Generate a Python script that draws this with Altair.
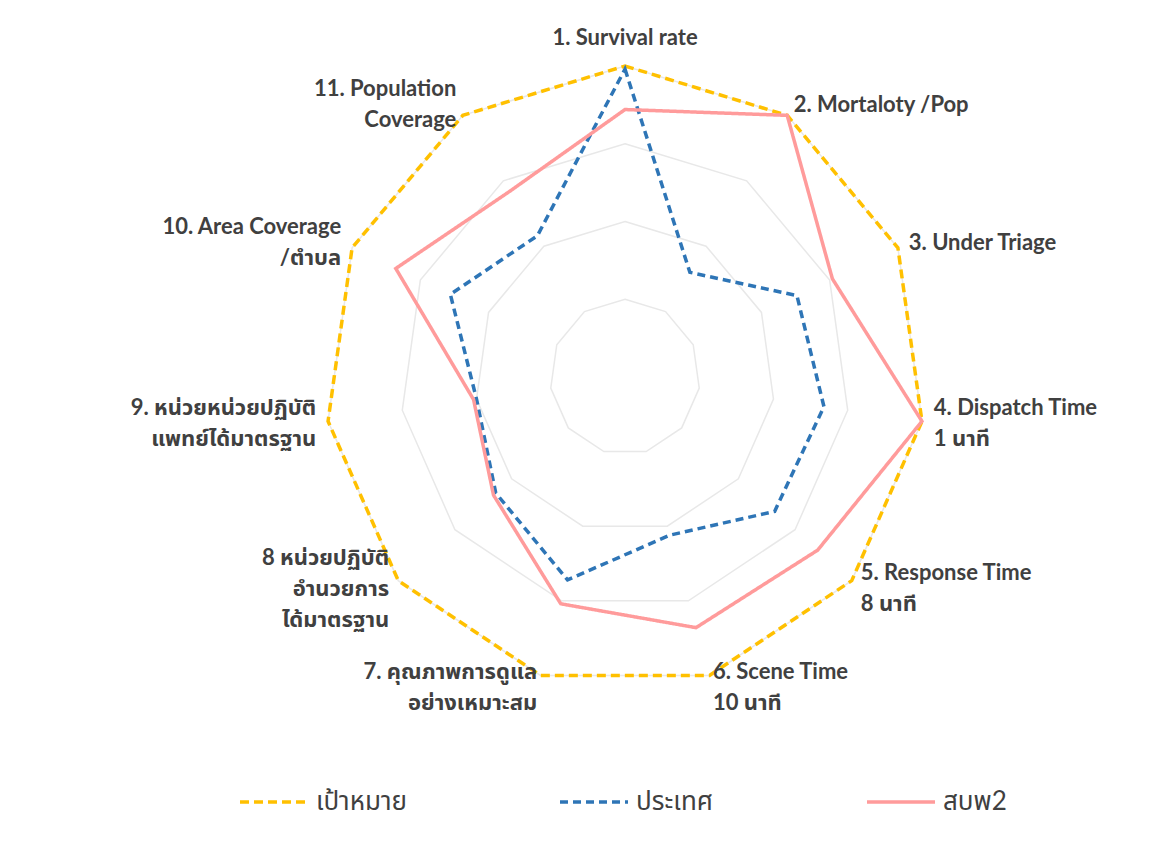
import altair as alt
import pandas as pd

# ---- data ----
categories = [
    "1. Survival rate",
    "2. Mortaloty /Pop",
    "3. Under Triage",
    "4. Dispatch Time\n1 นาที",
    "5. Response Time\n8 นาที",
    "6. Scene Time\n10 นาที",
    "7. คุณภาพการดูแล\nอย่างเหมาะสม",
    "8 หน่วยปฏิบัติ\nอำนวยการ\nได้มาตรฐาน",
    "9. หน่วยหน่วยปฏิบัติ\nแพทย์ได้มาตรฐาน",
    "10. Area Coverage\n/ตำบล",
    "11. Population\nCoverage",
]
series_names = ["เป้าหมาย", "ประเทศ", "สบพ2"]
target = [1.0, 1.0, 1.0, 1.0, 1.0, 1.0, 1.0, 1.0, 1.0, 1.0, 1.0]
country = [0.99, 0.40, 0.63, 0.67, 0.66, 0.53, 0.68, 0.57, 0.50, 0.64, 0.54]
sbp2 = [0.86, 1.00, 0.76, 1.00, 0.85, 0.84, 0.76, 0.58, 0.51, 0.84, 0.71]
grid_levels = [0.25, 0.5, 0.75, 1.0]

N = len(categories)

rows = []
for name, vals in zip(series_names, [target, country, sbp2]):
    for i, v in enumerate(vals):
        rows.append({"series": name, "idx": i, "value": v})
df = pd.DataFrame(rows)

grid_df = pd.DataFrame([{"level": l, "idx": i} for l in grid_levels for i in range(N)])
lab_df = pd.DataFrame({"label": categories, "idx": list(range(N))})

# ---- layout ----
W, H = 1136, 828
XU, YU = 300.0, 311.0          # pixels per unit radius
CX, CY = 617.0, 369.0          # centre inside plot area
xscale = alt.Scale(domain=[-CX / XU, (W - CX) / XU], nice=False, zero=False)
yscale = alt.Scale(domain=[(CY - H) / YU, CY / YU], nice=False, zero=False)

FONT = "Lato, 'Noto Sans Thai', 'Noto Sans', sans-serif"
TXT = "#404040"
LINE_H = 31

ang = f"datum.idx * 2 * PI / {N}"

def polar(ch, rfield):
    return ch.transform_calculate(
        ang=ang
    ).transform_calculate(
        px=f"{rfield} * sin(datum.ang)", py=f"{rfield} * cos(datum.ang)"
    )

grid = polar(alt.Chart(grid_df), "datum.level").mark_line(
    interpolate="linear-closed", stroke="#E8E8E8", strokeWidth=1.5
).encode(
    x=alt.X("px:Q", scale=xscale, axis=None),
    y=alt.Y("py:Q", scale=yscale, axis=None),
    detail="level:N",
    order="idx:Q",
)

color_scale = alt.Scale(domain=series_names, range=["#FFC000", "#2E75B6", "#FF9B9B"])
dash_scale = alt.Scale(domain=series_names, range=[[9, 5], [8, 5], [1, 0]])
legend = alt.Legend(
    orient="none", legendX=230, legendY=758, direction="horizontal", title=None,
    symbolType="stroke", symbolSize=4624, symbolStrokeWidth=3.5,
    labelFontSize=26, labelFont=FONT, labelColor=TXT, labelOffset=6,
    columnPadding=146,
)

def series_layer(name):
    return polar(alt.Chart(df), "datum.value").transform_filter(
        alt.datum.series == name
    ).mark_line(interpolate="linear-closed", strokeWidth=3.5).encode(
        x=alt.X("px:Q", scale=xscale, axis=None),
        y=alt.Y("py:Q", scale=yscale, axis=None),
        color=alt.Color("series:N", scale=color_scale, legend=legend, sort=series_names),
        strokeDash=alt.StrokeDash("series:N", scale=dash_scale, legend=legend, sort=series_names),
        order="idx:Q",
    )

def label_layer(cond, nlines, align, baseline, dy=0):
    return polar(alt.Chart(lab_df), "1.04").transform_calculate(
        nl="length(split(datum.label, '\\n'))"
    ).transform_filter(
        f"({cond}) && datum.nl == {nlines}"
    ).mark_text(
        align=align, baseline=baseline, dy=dy - (nlines - 1) * LINE_H / 2,
        font=FONT, fontSize=22, fontWeight="bold", color=TXT,
        lineBreak="\n", lineHeight=LINE_H,
    ).encode(
        x=alt.X("px:Q", scale=xscale, axis=None),
        y=alt.Y("py:Q", scale=yscale, axis=None),
        text="label:N",
    )

label_layers = []
for n in (1, 2, 3):
    label_layers.append(label_layer("sin(datum.ang) > 0.05", n, "left", "middle"))
    label_layers.append(label_layer("sin(datum.ang) < -0.05", n, "right", "middle"))
label_layers.append(label_layer("abs(sin(datum.ang)) <= 0.05", 1, "center", "bottom", dy=-4))

chart = alt.layer(
    grid,
    series_layer("เป้าหมาย"),
    series_layer("ประเทศ"),
    series_layer("สบพ2"),
    *label_layers,
).properties(
    width=W, height=H, padding=0, background="white"
).configure_view(stroke=None)

chart.save("out.html", embed_options={"renderer": "svg", "actions": False})
